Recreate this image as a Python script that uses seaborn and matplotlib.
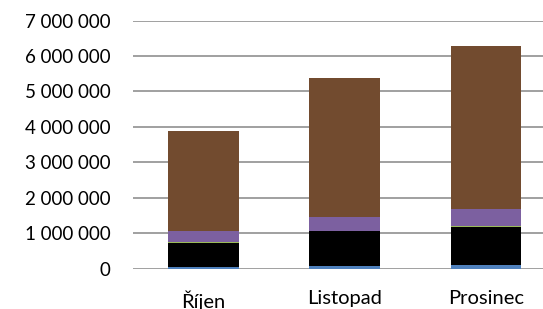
import seaborn as sns
import matplotlib.pyplot as plt
import numpy as np

# values
months = ['Říjen', 'Listopad', 'Prosinec']
modra = [40000, 80000, 90000]
cerna = [690000, 980000, 1070000]
zelena = [10000, 10000, 40000]
fialova = [320000, 390000, 490000]
hneda = [2820000, 3910000, 4600000]
yticks = [0, 1000000, 2000000, 3000000, 4000000, 5000000, 6000000, 7000000]

series = [modra, cerna, zelena, fialova, hneda]
colors = ['#4F81BD', '#000000', '#9BBB59', '#7C60A0', '#724B2F']

sns.set_style('white')
plt.rcParams['font.family'] = ['Lato', 'DejaVu Sans']

fig = plt.figure(figsize=(5.43, 3.09), dpi=100)
ax = fig.add_axes([133 / 543, 40.5 / 309, 423.5 / 543, 248 / 309])

bottom = np.zeros(len(months))
for vals, c in zip(series, colors):
    sns.barplot(x=months, y=vals, bottom=bottom, color=c, saturation=1,
                width=0.5, linewidth=0, ax=ax)
    bottom += np.array(vals)

ax.set_ylim(0, 7000000)
ax.set_xlim(-0.5, 2.5)
ax.set_yticks(yticks)
ax.set_yticklabels([f'{v:,.0f}'.replace(',', ' ') for v in yticks])
ax.yaxis.grid(True, color='#868686', linewidth=1.1)
ax.set_axisbelow(True)
for s in ax.spines.values():
    s.set_visible(False)
ax.tick_params(axis='y', length=0, pad=16, labelsize=13.5, labelcolor='black')
ax.tick_params(axis='x', length=0, pad=15.5, labelsize=14.5, labelcolor='black')
ax.set_xlabel('')
ax.set_ylabel('')

fig.savefig('out.png', dpi=100)
